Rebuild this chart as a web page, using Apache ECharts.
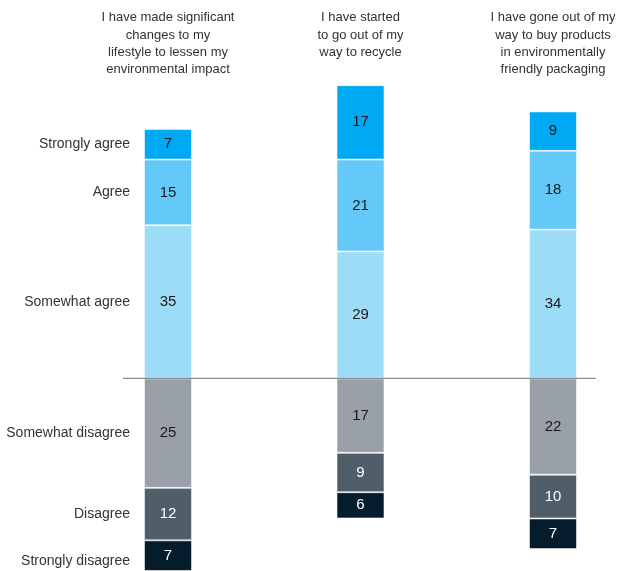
<!DOCTYPE html>
<html>
<head>
<meta charset="utf-8">
<script src="https://cdn.jsdelivr.net/npm/echarts@6/dist/echarts.min.js"></script>
<style>
  html, body { margin: 0; padding: 0; background: #fff; }
  #main { width: 620px; height: 571px; }
</style>
</head>
<body>
<div id="main"></div>
<script>
// statements shown above each column
var statements = [
  'I have made significant\nchanges to my\nlifestyle to lessen my\nenvironmental impact',
  'I have started\nto go out of my\nway to recycle',
  'I have gone out of my\nway to buy products\nin environmentally\nfriendly packaging'
];

// agree side (stacked upward from the baseline)
var somewhatAgree = [35, 29, 34];
var agree = [15, 21, 18];
var stronglyAgree = [7, 17, 9];

// disagree side (stacked downward)
var somewhatDisagree = [25, 17, 22];
var disagree = [12, 9, 10];
var stronglyDisagree = [7, 6, 7];

var font = '"Liberation Sans", Arial, sans-serif';

function mkSeries(name, values, sign, color, labelColor) {
  return {
    name: name,
    type: 'bar',
    stack: sign > 0 ? 'agree' : 'disagree',
    barWidth: 48,
    barGap: '-100%',
    clip: false,
    data: values.map(function (v) { return v * sign; }),
    itemStyle: { color: color, borderColor: 'rgba(255,255,255,0.55)', borderWidth: 1 },
    label: {
      show: true,
      position: 'inside',
      color: labelColor,
      fontFamily: font,
      fontSize: 15,
      formatter: function (p) { return Math.abs(p.value); }
    },
    silent: true
  };
}

var series = [
  mkSeries('Somewhat agree', somewhatAgree, 1, '#9cdcf7', '#1a1a1a'),
  mkSeries('Agree', agree, 1, '#64c8f8', '#1a1a1a'),
  mkSeries('Strongly agree', stronglyAgree, 1, '#00a9f4', '#1a1a1a'),
  mkSeries('Somewhat disagree', somewhatDisagree, -1, '#9aa0a9', '#1a1a1a'),
  mkSeries('Disagree', disagree, -1, '#505e69', '#ffffff'),
  mkSeries('Strongly disagree', stronglyDisagree, -1, '#051c2c', '#ffffff')
];

var chart = echarts.init(document.getElementById('main'));
chart.setOption({
  animation: false,
  grid: { left: 168, top: 72, width: 385, height: 501.6 },
  xAxis: {
    type: 'category',
    position: 'top',
    boundaryGap: false,
    data: statements,
    axisLine: { show: false },
    axisTick: { show: false },
    axisLabel: {
      interval: 0,
      margin: 63,
      verticalAlign: 'top',
      align: 'center',
      color: '#333',
      fontFamily: font,
      fontSize: 13,
      lineHeight: 17.4
    }
  },
  yAxis: {
    type: 'value',
    min: -44,
    max: 70,
    show: false,
    splitLine: { show: false }
  },
  series: series
});

// baseline + row labels aligned to the first column's segments
var y0 = chart.convertToPixel({ yAxisIndex: 0 }, 0);
var graphics = [{
  type: 'line',
  shape: { x1: 123, y1: y0, x2: 596, y2: y0 },
  style: { stroke: '#8c8c8c', lineWidth: 1.2 },
  z: 10
}];
var up = 0, down = 0;
series.forEach(function (s) {
  var v = s.data[0];
  var mid;
  if (v > 0) { mid = up + v / 2; up += v; } else { mid = down + v / 2; down += v; }
  var y = chart.convertToPixel({ yAxisIndex: 0 }, mid);
  if (s.name === 'Strongly disagree') y = Math.max(y, 561);
  graphics.push({
    type: 'text',
    x: 130,
    y: y,
    style: {
      text: s.name,
      align: 'right',
      verticalAlign: 'middle',
      fill: '#333',
      font: '14px ' + font
    }
  });
});
chart.setOption({ graphic: graphics });
</script>
</body>
</html>
